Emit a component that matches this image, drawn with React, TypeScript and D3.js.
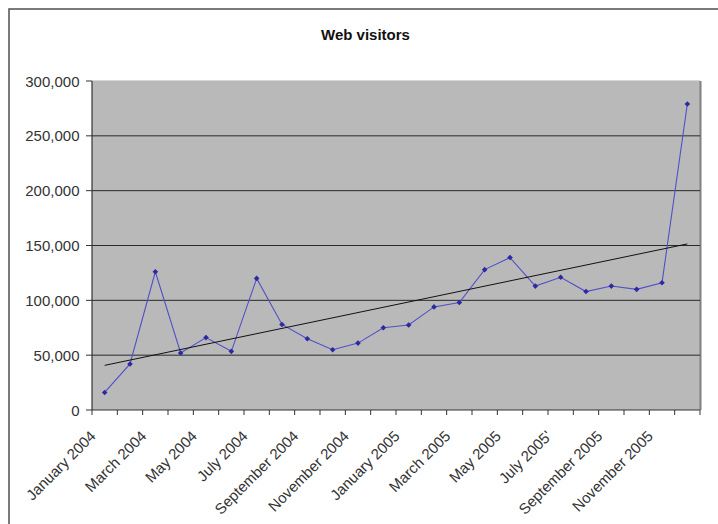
import React from "react";
import * as d3 from "d3";

const months = [
  "January 2004", "February 2004", "March 2004", "April 2004", "May 2004", "June 2004",
  "July 2004", "August 2004", "September 2004", "October 2004", "November 2004", "December 2004",
  "January 2005", "February 2005", "March 2005", "April 2005", "May 2005", "June 2005",
  "July 2005", "August 2005", "September 2005", "October 2005", "November 2005", "December 2005",
];

const visitors = [
  16000, 42000, 126000, 52000, 66000, 53500, 120000, 78000, 65000, 55000, 61000, 75000,
  77500, 94000, 98000, 128000, 139000, 113000, 121000, 108000, 113000, 110000, 116000, 279000,
];

// Labels shown under every other month
const xTickLabels = [
  "January 2004", "March 2004", "May 2004", "July 2004", "September 2004", "November 2004",
  "January 2005", "March 2005", "May 2005", "July 2005'", "September 2005", "November 2005",
];
const xTickMonths = [
  "January 2004", "March 2004", "May 2004", "July 2004", "September 2004", "November 2004",
  "January 2005", "March 2005", "May 2005", "July 2005", "September 2005", "November 2005",
];

const yTicks = [0, 50000, 100000, 150000, 200000, 250000, 300000];

const W = 718;
const H = 524;
const left = 92;
const right = 700;
const top = 81;
const bottom = 410;
const FONT = "'Liberation Sans', Arial, sans-serif";

export default function App() {
  const x = d3.scaleBand<string>().domain(months).range([left, right]).padding(0);
  const y = d3.scaleLinear().domain([0, 300000]).range([bottom, top]);
  const cx = (m: string) => (x(m) as number) + x.bandwidth() / 2;

  const pts: [number, number][] = months.map((m, i) => [cx(m), y(visitors[i])]);
  const line = d3.line<[number, number]>()(pts) as string;

  // least-squares linear trend over the month index
  const n = visitors.length;
  const idx = d3.range(1, n + 1);
  const mx = d3.mean(idx) as number;
  const my = d3.mean(visitors) as number;
  const slope =
    (d3.sum(idx, (k, j) => (k - mx) * (visitors[j] - my)) as number) /
    (d3.sum(idx, (k) => (k - mx) * (k - mx)) as number);
  const trendAt = (k: number) => my + slope * (k - mx);
  const trend = d3.line<[number, number]>()([
    [cx(months[0]), y(trendAt(1))],
    [cx(months[n - 1]), y(trendAt(n))],
  ]) as string;

  const fmt = d3.format(",");
  const bandEdges = d3.range(0, n + 1).map((k) => left + k * x.bandwidth());

  return (
    <svg
      width={W}
      height={H}
      style={{ position: "absolute", left: 0, top: 0, background: "#fff" }}
    >
      {/* chart frame */}
      <rect x={9} y={9} width={W + 20} height={H + 20} fill="#fff" stroke="#5a5a5a" strokeWidth={1.6} />

      <text x={365.5} y={39.5} textAnchor="middle" fontFamily={FONT} fontWeight="bold" fontSize={15} fill="#111">
        Web visitors
      </text>

      {/* plot area */}
      <rect x={left} y={top} width={right - left} height={bottom - top} fill="#b9b9b9" />
      <line x1={left} x2={right} y1={top - 0.5} y2={top - 0.5} stroke="#d8d8d8" strokeWidth={1} />
      <line x1={right + 0.5} x2={right + 0.5} y1={top} y2={bottom} stroke="#808080" strokeWidth={2} />

      {/* gridlines */}
      {yTicks.filter((t) => t > 0 && t < 300000).map((t) => (
        <line key={t} x1={left} x2={right} y1={y(t)} y2={y(t)} stroke="#2a2a2a" strokeWidth={1} />
      ))}

      {/* y axis */}
      <line x1={left} x2={left} y1={top} y2={bottom} stroke="#333" strokeWidth={1.2} />
      {yTicks.map((t) => (
        <g key={t}>
          <line x1={left - 6} x2={left} y1={y(t)} y2={y(t)} stroke="#333" strokeWidth={1} />
          <text x={79.5} y={y(t) + 5.5} textAnchor="end" fontFamily={FONT} fontSize={15} fill="#333">
            {fmt(t)}
          </text>
        </g>
      ))}

      {/* x axis */}
      <line x1={left} x2={right} y1={bottom} y2={bottom} stroke="#333" strokeWidth={1.2} />
      {bandEdges.map((bx, k) => (
        <line key={k} x1={bx} x2={bx} y1={bottom} y2={bottom + 5} stroke="#333" strokeWidth={1} />
      ))}
      {xTickMonths.map((m, i) => (
        <text
          key={m}
          transform={`translate(${cx(m) - 8},${437}) rotate(-45)`}
          textAnchor="end"
          fontFamily={FONT}
          fontSize={15}
          fill="#333"
        >
          {xTickLabels[i]}
        </text>
      ))}

      {/* series */}
      <path d={line} fill="none" stroke="#5050c8" strokeWidth={1.1} />
      {pts.map(([px, py], i) => (
        <path
          key={i}
          d={`M${px},${py - 2.8}L${px + 2.8},${py}L${px},${py + 2.8}L${px - 2.8},${py}Z`}
          fill="#2c2aa0"
        />
      ))}

      {/* linear trend */}
      <path d={trend} fill="none" stroke="#111" strokeWidth={1} />
    </svg>
  );
}
